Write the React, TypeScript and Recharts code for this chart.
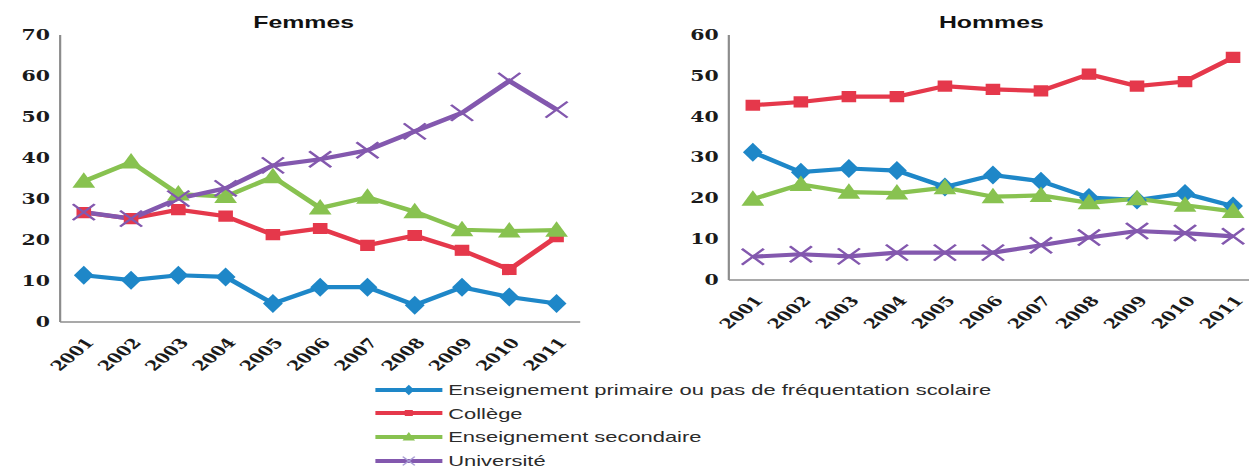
import { LineChart, Line, XAxis, YAxis } from "recharts"

// the source picture is stretched horizontally, so the whole drawing is too
const STRETCH = 1.46

const YEARS = [2001, 2002, 2003, 2004, 2005, 2006, 2007, 2008, 2009, 2010, 2011]

const SERIES_KEYS = ["primaire", "college", "secondaire", "universite"]
const SERIES_NAMES = [
  "Enseignement primaire ou pas de fréquentation scolaire",
  "Collège",
  "Enseignement secondaire",
  "Université",
]
const COLORS: Record<string, string> = {
  primaire:   "#1E87C8",
  college:    "#E5384B",
  secondaire: "#88C250",
  universite: "#8358AE",
}

const F_PRIMAIRE   = [11.4, 10.2, 11.4, 11, 4.5, 8.5, 8.5, 4.1, 8.5, 6.1, 4.5]
const F_COLLEGE    = [26.7, 25.2, 27.4, 25.8, 21.3, 22.8, 18.7, 21.1, 17.5, 12.8, 20.8]
const F_SECONDAIRE = [34.3, 39, 31.2, 30.6, 35.4, 27.8, 30.4, 26.9, 22.5, 22.2, 22.4]
const F_UNIVERSITE = [26.8, 25.2, 30.1, 32.6, 38.2, 39.7, 41.9, 46.5, 51, 58.8, 51.8]

const H_PRIMAIRE   = [31.3, 26.4, 27.3, 26.8, 22.8, 25.7, 24.2, 20.2, 19.6, 21.2, 18.1]
const H_COLLEGE    = [42.8, 43.6, 44.9, 44.9, 47.5, 46.7, 46.3, 50.4, 47.5, 48.6, 54.5]
const H_SECONDAIRE = [19.8, 23.4, 21.5, 21.3, 22.6, 20.4, 20.7, 18.9, 19.9, 18.3, 16.8]
const H_UNIVERSITE = [5.7, 6.3, 5.8, 6.7, 6.7, 6.7, 8.5, 10.4, 12, 11.5, 10.7]

const F_TICKS = [0, 10, 20, 30, 40, 50, 60, 70]
const H_TICKS = [0, 10, 20, 30, 40, 50, 60]

const AXIS = "#8c8c8c"
const TICK_FONT = { fontFamily: "DejaVu Serif", fontWeight: 700, fontSize: 14, fill: "#1a1a1a" }
const YEAR_FONT = { ...TICK_FONT, fontSize: 13.5 }

function buildRows(p: number[], c: number[], s: number[], u: number[]) {
  return YEARS.map((year, i) => ({
    year,
    primaire: p[i],
    college: c[i],
    secondaire: s[i],
    universite: u[i],
  }))
}

const femmes = buildRows(F_PRIMAIRE, F_COLLEGE, F_SECONDAIRE, F_UNIVERSITE)
const hommes = buildRows(H_PRIMAIRE, H_COLLEGE, H_SECONDAIRE, H_UNIVERSITE)

// boundaries between years, for the tick marks
const BOUNDS = [...YEARS.map(y => y - 0.5), YEARS[YEARS.length - 1] + 0.5]
const X_DOMAIN = [BOUNDS[0], BOUNDS[BOUNDS.length - 1]]

function markerPath(key: string, cx: number, cy: number, s = 1) {
  switch (key) {
    case "primaire":
      return `M${cx},${cy - 9.5 * s}L${cx + 6.8 * s},${cy}L${cx},${cy + 9.5 * s}L${cx - 6.8 * s},${cy}Z`
    case "college":
      return `M${cx - 5 * s},${cy - 5.6 * s}h${10 * s}v${11.2 * s}h${-10 * s}Z`
    case "secondaire":
      return `M${cx},${cy - 9 * s}L${cx + 7.8 * s},${cy + 6.5 * s}L${cx - 7.8 * s},${cy + 6.5 * s}Z`
    default:
      return `M${cx - 7.5 * s},${cy - 8 * s}L${cx + 7.5 * s},${cy + 8 * s}M${cx + 7.5 * s},${cy - 8 * s}L${cx - 7.5 * s},${cy + 8 * s}`
  }
}

const makeDot = (key: string) => (props: any) => {
  const { cx, cy, index } = props
  const cross = key === "universite"
  return (
    <path
      key={`${key}-${index}`}
      d={markerPath(key, cx, cy)}
      fill={cross ? "none" : COLORS[key]}
      stroke={COLORS[key]}
      strokeWidth={cross ? 2 : 0}
    />
  )
}

const YearTick = (props: any) => {
  const { x, y, payload } = props
  return (
    <text
      transform={`translate(${x + 4},${y + 4}) rotate(-50)`}
      textAnchor="end"
      dominantBaseline="central"
      {...YEAR_FONT}
    >
      {payload.value}
    </text>
  )
}

interface PanelProps {
  rows: typeof femmes
  ticks: number[]
  width: number
  height: number
  left: number
  right: number
}

function Panel({ rows, ticks, width, height, left, right }: PanelProps) {
  return (
    <div style={{ position: "absolute", left, top: 0 }}>
      <LineChart width={width} height={height} data={rows} margin={{ top: 35, right, bottom: 0, left: 0 }}>
        <XAxis
          xAxisId="b"
          type="number"
          dataKey="year"
          domain={X_DOMAIN}
          allowDataOverflow
          ticks={BOUNDS}
          tick={false}
          tickSize={5}
          height={6}
          axisLine={{ stroke: AXIS, strokeWidth: 1.5 }}
          tickLine={{ stroke: AXIS, strokeWidth: 1.5 }}
        />
        <XAxis
          xAxisId="l"
          type="number"
          dataKey="year"
          domain={X_DOMAIN}
          allowDataOverflow
          ticks={YEARS}
          axisLine={false}
          tickLine={false}
          height={72}
          tick={<YearTick />}
          interval={0}
        />
        <YAxis
          type="number"
          domain={[0, ticks[ticks.length - 1]]}
          allowDataOverflow
          ticks={ticks}
          width={41.2}
          tickLine={false}
          tickSize={5}
          tickMargin={2}
          axisLine={{ stroke: AXIS, strokeWidth: 1.5 }}
          tick={TICK_FONT}
          interval={0}
        />
        {SERIES_KEYS.map(k => (
          <Line
            key={k}
            xAxisId="b"
            type="linear"
            dataKey={k}
            stroke={COLORS[k]}
            strokeWidth={4.2}
            dot={makeDot(k)}
            activeDot={false}
            isAnimationActive={false}
          />
        ))}
      </LineChart>
    </div>
  )
}

const titleStyle: React.CSSProperties = {
  position: "absolute",
  top: 13,
  fontFamily: "Liberation Sans, Arial, sans-serif",
  fontWeight: 700,
  fontSize: 17,
  color: "#111",
  lineHeight: "20px",
  transform: "translateX(-50%)",
  whiteSpace: "nowrap",
}

function LegendBlock() {
  return (
    <div style={{ position: "absolute", left: 257, top: 378 }}>
      {SERIES_KEYS.map((k, i) => (
        <div key={k} style={{ display: "flex", alignItems: "center", height: 23.6 }}>
          <svg width={50} height={16} style={{ display: "block" }}>
            <line x1={0} y1={8} x2={46} y2={8} stroke={COLORS[k]} strokeWidth={3.8} />
            {k === "universite" ? (
              <path d={markerPath(k, 23, 8, 0.55)} stroke="#A99ED4" strokeWidth={1.2} fill="none" />
            ) : (
              <path d={markerPath(k, 23, 8, 0.55)} fill={COLORS[k]} />
            )}
          </svg>
          <span
            style={{
              fontFamily: "Liberation Sans, Arial, sans-serif",
              fontSize: 15,
              color: "#2b2b2b",
              whiteSpace: "nowrap",
            }}
          >
            {SERIES_NAMES[i]}
          </span>
        </div>
      ))}
    </div>
  )
}

export default function App() {
  return (
    <div style={{ position: "absolute", left: 0, top: 0, width: 1249, height: 470, overflow: "hidden", background: "#fff" }}>
      <div
        style={{
          position: "absolute",
          left: 0,
          top: 0,
          width: 1249 / STRETCH,
          height: 470,
          transform: `scaleX(${STRETCH})`,
          transformOrigin: "0 0",
        }}
      >
        <div style={{ ...titleStyle, left: 208 }}>Femmes</div>
        <div style={{ ...titleStyle, left: 679 }}>Hommes</div>
        <Panel rows={femmes} ticks={F_TICKS} width={420} height={400} left={0} right={22.6} />
        <Panel rows={hommes} ticks={H_TICKS} width={413} height={358} left={458} right={10} />
        <LegendBlock />
      </div>
    </div>
  )
}
